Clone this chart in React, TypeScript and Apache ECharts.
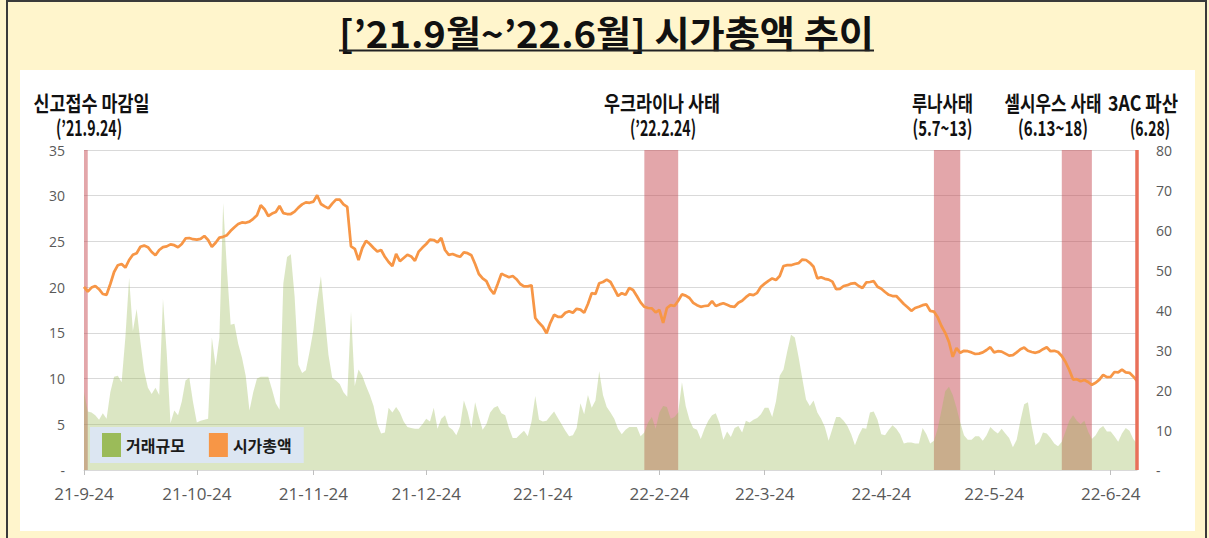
import React, { useEffect, useRef } from 'react';
import * as echarts from 'echarts';

// ---------- DATA ----------
const START_UTC = Date.UTC(2021, 8, 24); // 2021-09-24
const DAY_COUNT = 281; // through 2022-07-01
const categories: string[] = Array.from({ length: DAY_COUNT }, (_, i) => {
  const d = new Date(START_UTC + i * 86400000);
  return `${d.getUTCFullYear() % 100}-${d.getUTCMonth() + 1}-${d.getUTCDate()}`;
});

// 거래규모 (left axis, 0~35)
const tradeVolume: number[] = [
  8.5, 6.4, 6.3, 6.0, 5.5, 6.2, 5.6, 8.5, 10.2, 10.3,
  9.6, 14.5, 21.0, 15.2, 17.6, 14.0, 10.8, 9.0, 8.3, 9.0,
  8.2, 18.7, 12.8, 5.1, 6.5, 6.0, 7.5, 9.8, 10.1, 7.4,
  5.2, 5.4, 5.5, 5.6, 14.5, 11.4, 14.5, 29.2, 22.0, 15.9,
  16.0, 13.8, 12.3, 10.3, 6.5, 8.5, 10.0, 10.2, 10.2, 10.2,
  8.8, 7.3, 6.6, 20.4, 23.3, 23.6, 19.0, 11.5, 10.6, 10.9,
  13.0, 15.3, 18.5, 21.2, 16.9, 12.6, 10.1, 9.8, 9.4, 8.5,
  8.0, 17.3, 9.2, 11.0, 10.3, 9.2, 8.2, 7.0, 5.0, 4.0,
  4.1, 6.8, 6.3, 6.9, 6.3, 5.3, 4.7, 4.6, 4.5, 4.5,
  5.0, 5.6, 5.3, 6.8, 4.5, 5.6, 6.0, 4.7, 4.4, 3.8,
  4.8, 7.6, 6.4, 4.6, 7.4, 5.8, 4.4, 5.0, 6.3, 6.8,
  7.0, 6.2, 6.0, 4.6, 3.5, 3.5, 3.9, 4.3, 3.7, 5.3,
  8.1, 5.5, 5.3, 5.4, 5.9, 6.4, 5.7, 5.0, 4.3, 3.7,
  3.8, 4.6, 7.3, 6.1, 8.2, 6.8, 7.6, 10.8, 8.2, 6.9,
  6.3, 5.6, 4.5, 3.9, 4.4, 4.7, 4.7, 4.7, 3.7, 4.1,
  5.2, 5.8, 4.5, 6.3, 7.0, 6.9, 5.6, 5.8, 6.3, 9.6,
  7.0, 5.5, 4.6, 4.4, 3.4, 4.5, 5.4, 6.0, 6.2, 5.1,
  3.3, 4.2, 3.6, 4.6, 4.8, 4.1, 5.4, 5.2, 5.5, 5.7,
  6.1, 6.8, 6.8, 5.8, 7.5, 10.3, 11.0, 13.0, 14.8, 14.5,
  12.4, 10.0, 7.7, 7.0, 7.6, 6.3, 5.6, 4.7, 3.2, 4.5,
  5.8, 5.8, 5.4, 4.8, 3.9, 2.7, 3.8, 4.6, 4.5, 6.3,
  6.4, 5.5, 3.9, 3.8, 4.4, 4.9, 4.5, 3.9, 2.9, 3.0,
  3.0, 2.9, 2.9, 4.6, 3.9, 2.9, 3.2, 4.5, 6.5, 8.6,
  9.1, 8.2, 6.8, 5.2, 3.8, 3.3, 3.3, 3.7, 3.7, 3.2,
  3.8, 4.7, 4.3, 4.0, 4.5, 4.0, 3.5, 2.5, 3.3, 5.4,
  7.2, 7.4, 4.8, 2.7, 3.1, 4.1, 4.0, 3.5, 2.9, 2.6,
  3.1, 4.2, 5.4, 6.0, 5.4, 5.0, 5.4, 4.2, 3.4, 3.8,
  4.5, 4.8, 4.2, 4.2, 3.7, 3.1, 4.0, 4.6, 4.3, 3.4,
  2.9,
];

// 시가총액 (right axis, 0~80)
const marketCap: number[] = [
  45.8, 44.6, 45.6, 46.0, 45.2, 44.0, 43.8, 46.5, 49.5, 51.2,
  51.5, 50.6, 52.5, 53.8, 54.2, 55.8, 56.1, 55.7, 54.5, 53.7,
  55.0, 55.7, 55.9, 56.4, 56.2, 55.7, 56.5, 57.9, 58.0, 57.7,
  57.6, 57.8, 58.5, 57.5, 55.8, 56.8, 58.1, 58.3, 58.7, 59.8,
  60.7, 61.5, 61.9, 61.8, 62.1, 62.8, 63.7, 66.2, 65.2, 63.5,
  64.1, 64.5, 66.0, 64.2, 64.0, 64.0, 64.6, 65.6, 66.4, 66.9,
  66.8, 67.1, 68.7, 66.5, 65.9, 65.4, 66.6, 67.6, 67.6, 66.4,
  65.8, 55.9, 55.3, 52.5, 55.5, 57.3, 56.5, 55.5, 54.6, 55.0,
  53.3, 52.0, 51.0, 54.0, 52.2, 53.0, 53.8, 53.4, 52.3, 54.6,
  55.6, 56.5, 57.6, 57.5, 56.9, 58.0, 55.0, 53.8, 54.0, 53.6,
  53.3, 54.4, 54.2, 53.7, 51.5, 49.0, 47.9, 47.2, 45.2, 44.0,
  46.5, 49.1, 48.6, 48.2, 48.5, 47.7, 46.5, 45.9, 45.9, 46.2,
  38.0, 36.8, 35.8, 34.2, 36.8, 38.8, 38.3, 38.3, 39.3, 39.7,
  39.3, 40.3, 40.1, 39.3, 41.5, 44.2, 44.0, 46.7, 47.0, 47.6,
  47.0, 45.3, 43.5, 44.2, 43.8, 45.5, 45.0, 43.5, 41.9, 40.8,
  40.5, 40.4, 39.4, 40.0, 36.8, 40.5, 41.2, 41.0, 42.3, 43.9,
  43.6, 43.0, 41.8, 41.2, 40.8, 41.0, 41.1, 42.2, 41.0, 41.4,
  41.7, 41.3, 40.9, 40.8, 41.8, 42.3, 43.2, 43.9, 43.7, 44.3,
  45.8, 46.6, 47.3, 47.9, 47.5, 48.5, 51.0, 51.2, 51.2, 51.5,
  51.7, 52.6, 52.5, 51.8, 50.8, 47.9, 48.2, 47.8, 47.6, 47.1,
  45.2, 45.3, 46.0, 46.2, 46.6, 46.7, 46.0, 45.5, 46.9, 47.0,
  47.2, 45.8, 45.3, 44.5, 43.8, 43.5, 43.5, 42.5, 41.5, 40.7,
  39.8, 40.5, 40.8, 41.2, 41.4, 39.8, 39.6, 38.2, 36.0, 34.3,
  32.0, 28.3, 30.5, 29.3, 29.8, 29.7, 29.4, 29.0, 29.1, 29.4,
  30.0, 30.7, 29.4, 29.7, 29.6, 29.1, 28.6, 28.7, 29.4, 30.2,
  30.6, 29.8, 29.5, 29.3, 29.6, 30.2, 30.7, 29.7, 29.8, 29.5,
  28.5, 27.0, 25.0, 22.6, 22.7, 22.2, 22.5, 22.0, 21.3, 21.8,
  22.6, 23.8, 23.2, 23.3, 24.5, 24.4, 25.1, 24.4, 24.3, 23.4,
  22.3,
];

// event periods [start, end]
const eventBands: [string, string][] = [
  ['21-9-24', '21-9-25'],
  ['22-2-20', '22-3-1'],
  ['22-5-8', '22-5-15'],
  ['22-6-11', '22-6-19'],
];
const eventLine = '22-7-1';

const seriesNames = ['거래규모', '시가총액'];
const titleText = '[’21.9월~’22.6월] 시가총액 추이';

// annotation texts (layout positions)
const annotations = [
  { text: '신고접수 마감일', cx: 91.5, cy: 102, w: 116 },
  { text: '(’21.9.24)', cx: 89, cy: 127, w: 66 },
  { text: '우크라이나 사태', cx: 662, cy: 102, w: 116 },
  { text: '(’22.2.24)', cx: 663, cy: 127, w: 66 },
  { text: '루나사태', cx: 942.5, cy: 102, w: 61 },
  { text: '(5.7~13)', cx: 942.5, cy: 127, w: 60 },
  { text: '셀시우스 사태', cx: 1053, cy: 102, w: 97 },
  { text: '(6.13~18)', cx: 1053, cy: 127, w: 70 },
  { text: '3AC 파산', cx: 1143, cy: 102, w: 70 },
  { text: '(6.28)', cx: 1150, cy: 127, w: 40 },
];

const CJK = '"Noto Sans CJK KR", "Noto Sans", sans-serif';

function measure(text: string, font: string): number {
  const ctx = document.createElement('canvas').getContext('2d');
  if (!ctx) return 1;
  ctx.font = font;
  return ctx.measureText(text).width || 1;
}

function scaledText(text: string, cx: number, cy: number, w: number, size: number) {
  const natural = measure(text, `bold ${size}px "Noto Sans CJK KR"`);
  return {
    type: 'text',
    x: cx,
    y: cy,
    scaleX: w / natural,
    silent: true,
    style: {
      text,
      fontSize: size,
      fontWeight: 'bold',
      fontFamily: CJK,
      fill: '#111111',
      align: 'center',
      verticalAlign: 'middle',
    },
  };
}

export default function App() {
  const ref = useRef<HTMLDivElement>(null);

  useEffect(() => {
    document.body.style.margin = '0';
    if (!ref.current) return;
    const chart = echarts.init(ref.current, null, { renderer: 'svg', width: 1209, height: 538 });

    const labelInterval = (_i: number, v: string) => v.endsWith('-24');

    const graphics: any[] = [
      scaledText(titleText, 606.5, 32, 535, 37),
      { type: 'rect', silent: true, shape: { x: 339, y: 49.5, width: 535, height: 2 }, style: { fill: '#222222' } },
      ...annotations.map((a) => scaledText(a.text, a.cx, a.cy, a.w, 21)),
    ];

    const option: any = {
      animation: false,
      backgroundColor: 'transparent',
      grid: { left: 84, right: 72, top: 150, bottom: 68, containLabel: false, outerBoundsMode: 'none' },
      legend: {
        data: [
          { name: seriesNames[0], icon: 'rect', itemStyle: { color: '#9BBB59', borderWidth: 0 } },
          { name: seriesNames[1], icon: 'rect', itemStyle: { color: '#F79646', borderWidth: 0 } },
        ],
        left: 90,
        top: 427,
        padding: [6, 12, 6, 12],
        itemWidth: 19,
        itemHeight: 24,
        itemGap: 24,
        backgroundColor: '#DCE6F2',
        selectedMode: false,
        textStyle: { fontSize: 16, fontWeight: 'bold', color: '#1a1a1a', fontFamily: CJK, padding: [0, 0, 0, 0] },
      },
      xAxis: {
        type: 'category',
        data: categories,
        boundaryGap: false,
        axisLine: { show: true, lineStyle: { color: '#D9D9D9', width: 1 } },
        axisTick: { show: true, interval: labelInterval, length: 5, lineStyle: { color: '#BFBFBF' } },
        axisLabel: {
          interval: labelInterval,
          margin: 15,
          color: '#595959',
          fontSize: 17,
          fontFamily: '"Open Sans", sans-serif',
        },
        splitLine: { show: false },
      },
      yAxis: [
        {
          type: 'value',
          min: 0,
          max: 35,
          interval: 5,
          axisLine: { show: false },
          axisTick: { show: false },
          axisLabel: {
            margin: 19,
            color: '#595959',
            fontSize: 14,
            fontFamily: '"Open Sans", sans-serif',
            formatter: (v: number) => (v === 0 ? '-' : String(v)),
          },
          splitLine: { show: true, lineStyle: { color: '#D9D9D9', width: 1 } },
        },
        {
          type: 'value',
          min: 0,
          max: 80,
          interval: 10,
          axisLine: { show: false },
          axisTick: { show: false },
          axisLabel: {
            margin: 19,
            color: '#595959',
            fontSize: 14,
            fontFamily: '"Open Sans", sans-serif',
            formatter: (v: number) => (v === 0 ? '-' : String(v)),
          },
          splitLine: { show: false },
        },
      ],
      series: [
        {
          name: seriesNames[0],
          type: 'line',
          yAxisIndex: 0,
          data: tradeVolume,
          symbol: 'none',
          z: 1,
          lineStyle: { width: 0, color: '#9BBB59' },
          itemStyle: { color: '#9BBB59' },
          areaStyle: { color: 'rgba(155,187,89,0.36)', opacity: 1 },
        },
        {
          name: seriesNames[1],
          type: 'line',
          yAxisIndex: 1,
          data: marketCap,
          symbol: 'none',
          z: 3,
          lineStyle: { width: 2.75, color: '#F79646' },
          itemStyle: { color: '#F79646' },
        },
        {
          name: 'events',
          type: 'line',
          yAxisIndex: 0,
          data: [],
          z: 6,
          markArea: {
            silent: true,
            itemStyle: { color: 'rgba(196,70,78,0.48)' },
            label: { show: false },
            data: eventBands.map(([a, b]) => [{ xAxis: a }, { xAxis: b }]),
          },
          markLine: {
            silent: true,
            symbol: ['none', 'none'],
            label: { show: false },
            lineStyle: { color: '#E9705A', width: 3.5, type: 'solid' },
            data: [{ xAxis: eventLine }],
          },
        },
      ],
      graphic: graphics,
    };

    chart.setOption(option);
    return () => chart.dispose();
  }, []);

  return (
    <div style={{ position: 'absolute', left: 0, top: 0, width: 1209, height: 538, background: '#FFF5CC', overflow: 'hidden' }}>
      <div
        style={{
          position: 'absolute',
          left: 6,
          top: 0,
          width: 1201,
          height: 560,
          border: '2px solid #3a3a3a',
          boxSizing: 'border-box',
        }}
      />
      <div style={{ position: 'absolute', left: 20, top: 70, width: 1175, height: 461, background: '#ffffff' }} />
      <div ref={ref} style={{ position: 'absolute', left: 0, top: 0, width: 1209, height: 538 }} />
    </div>
  );
}
